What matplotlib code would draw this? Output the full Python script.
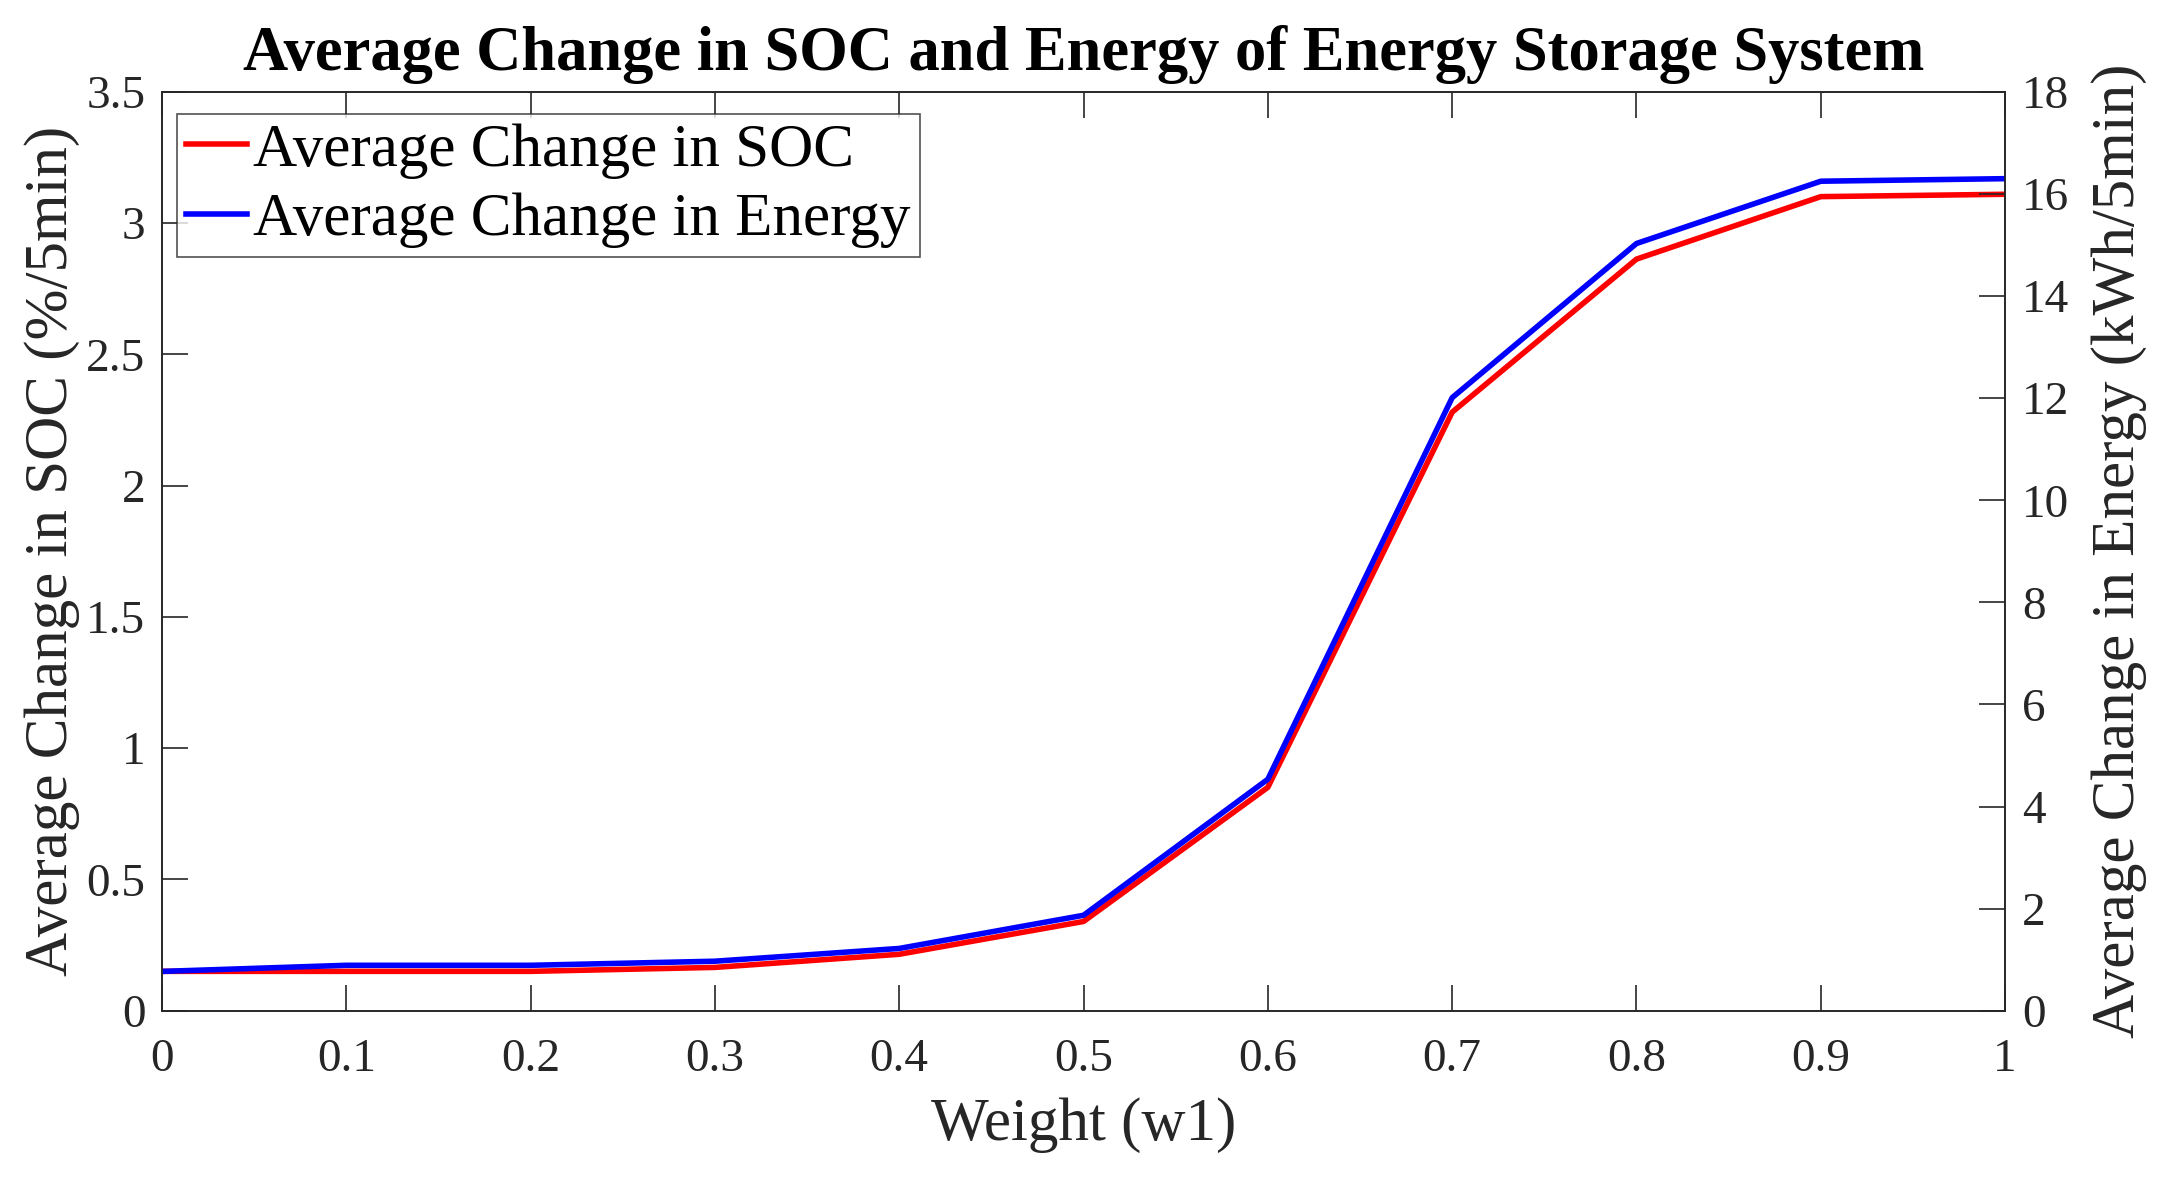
import numpy as np
import matplotlib
matplotlib.use('Agg')
import matplotlib.pyplot as plt
from matplotlib.ticker import FuncFormatter

# --- data ---
w1 = [0.0, 0.1, 0.2, 0.3, 0.4, 0.5, 0.6, 0.7, 0.8, 0.9, 1.0]
soc_change = [0.15, 0.15, 0.15, 0.165, 0.215, 0.34, 0.851, 2.28, 2.863, 3.101, 3.110]
energy_change = [0.77, 0.89, 0.89, 0.97, 1.22, 1.87, 4.535, 12.01, 15.03, 16.25, 16.30]

soc_ticks = [0, 0.5, 1, 1.5, 2, 2.5, 3, 3.5]
energy_ticks = [0, 2, 4, 6, 8, 10, 12, 14, 16, 18]
x_ticks = w1

plt.rcParams['font.family'] = ['Liberation Serif', 'DejaVu Serif']

fig = plt.figure(figsize=(21.71, 11.78), dpi=100)
ax = fig.add_axes([0.0746, 0.142, 0.849, 0.780])
ax2 = ax.twinx()

fmt = FuncFormatter(lambda v, p: '%g' % v)

l1, = ax.plot(w1, soc_change, color='#ff0000', linewidth=4, label='Average Change in SOC')
l2, = ax2.plot(w1, energy_change, color='#0000ff', linewidth=4, label='Average Change in Energy')

ax.set_xlim(0, 1)
ax.set_ylim(0, 3.5)
ax2.set_ylim(0, 18)
ax.set_xticks(x_ticks)
ax.set_yticks(soc_ticks)
ax2.set_yticks(energy_ticks)
ax.xaxis.set_major_formatter(fmt)
ax.yaxis.set_major_formatter(fmt)
ax2.yaxis.set_major_formatter(fmt)

ax.tick_params(axis='x', direction='in', length=19, width=1.2, top=True, labelsize=34, pad=20, colors='#262626')
ax.tick_params(axis='y', direction='in', length=19, width=1.2, right=False, labelsize=34, pad=12, colors='#262626')
ax2.tick_params(axis='y', direction='in', length=19, width=1.2, labelsize=34, pad=12, colors='#262626')
for a in (ax, ax2):
    for s in a.spines.values():
        s.set_linewidth(1.2)
        s.set_color('#262626')

ax.set_xlabel('Weight (w1)', fontsize=44, color='#262626', labelpad=12)
ax.set_ylabel('Average Change in SOC (%/5min)', fontsize=44, color='#262626', labelpad=4)
ax2.set_ylabel('Average Change in Energy (kWh/5min)', fontsize=44, color='#262626', labelpad=16)
ax.set_title('Average Change in SOC and Energy of Energy Storage System',
             fontsize=45, fontweight='bold', pad=16)

leg = ax2.legend(handles=[l1, l2], loc='upper left', bbox_to_anchor=(0.008, 0.976),
                 borderaxespad=0, fontsize=44, frameon=True, fancybox=False,
                 handlelength=1.0, handletextpad=0.1, labelspacing=0.22, borderpad=0.15)
leg.get_frame().set_edgecolor('#262626')
leg.get_frame().set_linewidth(1.2)

fig.savefig('out.png', dpi=100, facecolor='white')
